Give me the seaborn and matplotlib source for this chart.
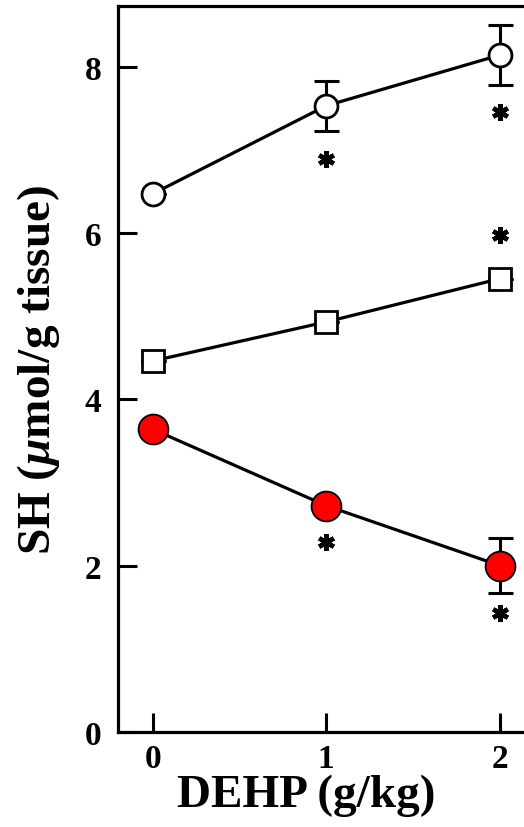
import numpy as np
import matplotlib
matplotlib.use("Agg")
import matplotlib.pyplot as plt
import seaborn as sns

# data
dose = [0, 1, 2]

open_circle = [6.47, 7.53, 8.14]
open_circle_err = [0.0, 0.30, 0.36]
open_circle_star = [None, 6.89, 7.45]

open_square = [4.46, 4.93, 5.45]
open_square_err = [0.0, 0.0, 0.0]
open_square_star = [None, None, 5.98]

red_circle = [3.64, 2.72, 2.00]
red_circle_err = [0.0, 0.0, 0.33]
red_circle_star = [None, 2.28, 1.43]

yticks = [0, 2, 4, 6, 8]
xticks = [0, 1, 2]

sns.set_theme(style="ticks")
plt.rcParams["font.family"] = ["Liberation Serif", "DejaVu Serif"]
plt.rcParams["font.weight"] = "bold"
plt.rcParams["text.color"] = "black"
plt.rcParams["axes.labelcolor"] = "black"
plt.rcParams["xtick.color"] = "black"
plt.rcParams["ytick.color"] = "black"
plt.rcParams["mathtext.fontset"] = "custom"
plt.rcParams["mathtext.it"] = "Liberation Serif:italic:bold"
plt.rcParams["mathtext.rm"] = "Liberation Serif:bold"

fig = plt.figure(figsize=(5.24, 8.28), dpi=100)
ax = fig.add_axes([0.225, 0.115, 0.775, 0.8765])

series = [
    (open_circle, open_circle_err, open_circle_star, "o", "white", 16.5),
    (open_square, open_square_err, open_square_star, "s", "white", 16.5),
    (red_circle, red_circle_err, red_circle_star, "o", "#ff0000", 21.5),
]

for vals, err, stars, mk, fc, ms in series:
    ax.errorbar(dose, vals, yerr=err, fmt="none", ecolor="black",
                elinewidth=2.2, capsize=9, capthick=2.2, zorder=1)
    sns.lineplot(x=dose, y=vals, ax=ax, color="black", linewidth=2.3,
                 marker=mk, markersize=ms, markerfacecolor=fc,
                 markeredgecolor="black", markeredgewidth=2.0 if fc == "white" else 1.3,
                 zorder=3)
    sx = [d for d, s in zip(dose, stars) if s is not None]
    sy = [s for s in stars if s is not None]
    ax.plot(sx, sy, linestyle="none", marker=(6, 2, 0), markersize=12,
            markeredgewidth=3.2, color="black", zorder=2)

ax.set_xlim(-0.2, 2.14)
ax.set_ylim(0, 8.73)
ax.set_xticks(xticks)
ax.set_yticks(yticks)
ax.tick_params(direction="in", length=14, width=2.2, labelsize=24, pad=12)
ax.tick_params(axis="x", pad=8)
for lab in ax.get_xticklabels() + ax.get_yticklabels():
    lab.set_fontweight("bold")

for side in ["left", "bottom", "top"]:
    ax.spines[side].set_linewidth(2.3)
    ax.spines[side].set_color("black")
ax.spines["right"].set_visible(False)

ax.set_xlabel("DEHP (g/kg)", fontsize=34, fontweight="bold")
ax.set_ylabel(r"SH ($\mu$mol/g tissue)", fontsize=34, fontweight="bold")
ax.xaxis.set_label_coords(0.463, -0.057, transform=ax.transAxes)
ax.yaxis.set_label_coords(-0.138, 0.5, transform=ax.transAxes)

fig.savefig("out.png", dpi=100)
